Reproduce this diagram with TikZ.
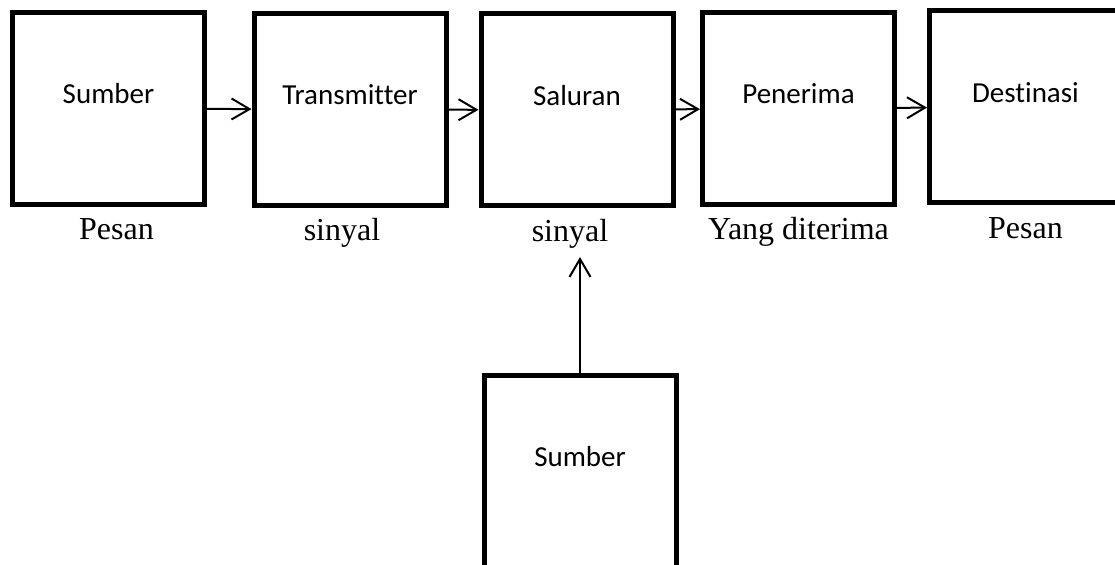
\documentclass[tikz,border=0pt]{standalone}
\usepackage{fontspec}
\setmainfont{Liberation Serif}
\newfontfamily\blockfont[Ligatures=NoCommon]{Carlito}
\usetikzlibrary{arrows.meta}
\usetikzlibrary{positioning}

\begin{document}
\begin{tikzpicture}[
		x=0.5pt, y=-0.5pt,
		blocknode/.style={
		% The shape:
		rectangle,
		% The size:
		minimum width=96pt,
		minimum height=96pt,
		% The border:
		line width=2.5pt,
		draw=black,
		% The filling:
		fill=white
    		},
		blocktext/.style={
		% Font
		font=\blockfont\fontsize{14.5}{17}\selectfont,
		text height=10pt,
		text depth=0pt,
		inner sep=0pt,
		yshift=7.25pt
    		},
		captionnode/.style={
		% Font
		font=\fontsize{16}{19}\selectfont,
		text height=11.2pt,
		text depth=3.5pt,
		inner sep=0pt
    		},
		flowarrow/.style={
		line width=1pt,
		-{Straight Barb[length=9pt,width=10.5pt]}
    		}
	]
	\useasboundingbox (0,0) rectangle (1115,565);

	\node (sumber)[blocknode, label={[blocktext]center:Sumber}] at (108.5,108.5) {};
	\node (transmitter)[blocknode, label={[blocktext]center:Transmitter}] at (350,109.5) {};
	\node (saluran)[blocknode, label={[blocktext]center:Saluran}] at (577,110) {};
	\node (penerima)[blocknode, label={[blocktext]center:Penerima}] at (798.5,108.5) {};
	\node (destinasi)[blocknode, label={[blocktext]center:Destinasi}] at (1025.5,107) {};
	\node (sumberbawah)[blocknode, label={[blocktext]center:Sumber}] at (580,471.5) {};
	\coordinate (tip) at (580,257);

	\node (pesan)[captionnode, below=5pt of sumber, xshift=4pt] {Pesan};
	\node (sinyal)[captionnode, below=5pt of transmitter, xshift=-4pt] {sinyal};
	\node (sinyaldua)[captionnode, below=5pt of saluran, xshift=-3.5pt] {sinyal};
	\node (diterima)[captionnode, below=5pt of penerima] {Yang diterima};
	\node (pesandua)[captionnode, below=5pt of destinasi] {Pesan};

  	\draw [flowarrow] (sumber) -- (transmitter);
  	\draw [flowarrow] (transmitter) -- (saluran);
  	\draw [flowarrow] (saluran) -- (penerima);
  	\draw [flowarrow] (penerima) -- (destinasi);
  	\draw [flowarrow] (sumberbawah) -- (tip);
\end{tikzpicture}
\end{document}
